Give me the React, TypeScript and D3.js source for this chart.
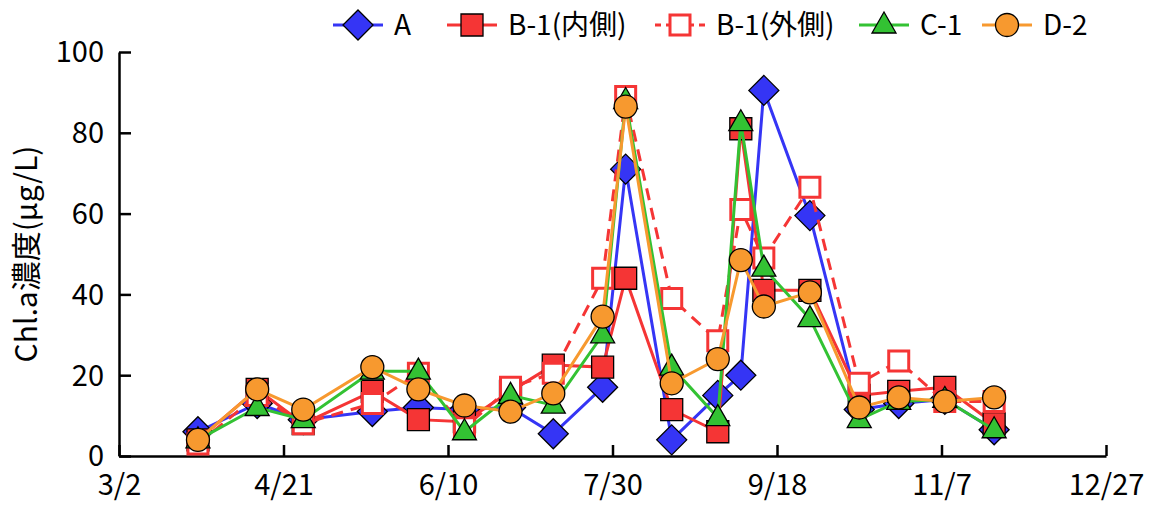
import { useEffect, useRef } from 'react';
import * as d3 from 'd3';

// sampling dates (M/D) and Chl.a values (μg/L) per station
const sampleDates = ['3/26', '4/13', '4/27', '5/18', '6/1', '6/15', '6/29', '7/12', '7/27', '8/3', '8/17', '8/31', '9/7', '9/14', '9/28', '10/13', '10/25', '11/8', '11/23'];
const seriesA = [6, 13, 9, 11, 12, 11.5, 12, 5.5, 17, 71, 4, 15, 20, 90.5, 59.5, 11.5, 13, 14, 6.5];
const seriesBin = [4, 16.5, 8, 16, 9, 8.5, 16, 22.5, 22, 44, 11.5, 6, 81, 41, 41, 15, 16, 17, 8];
const seriesBout = [3, 15, 8, 13, 20.5, 7, 17, 20.5, 44, 89, 39, 28.5, 61, 49, 66.5, 18, 23.5, 13.5, 13.5];
const seriesC = [4, 12, 9, 21, 21, 6, 15, 12.6, 30, 88, 22, 9.5, 82.5, 46.5, 34, 9, 13.5, 14, 6.5];
const seriesD = [4, 16.5, 11.5, 22, 16.5, 12.5, 11, 15.5, 34.5, 86.5, 18, 24, 48.5, 37, 40.5, 12, 14.5, 13.5, 14.5];
const xTickLabels = ['3/2', '4/21', '6/10', '7/30', '9/18', '11/7', '12/27'];
const yTicks = [0, 20, 40, 60, 80, 100];

const seriesDefs = [
  { name: 'A', values: seriesA, color: '#3535f5', marker: 'diamond', fill: '#3535f5', dash: null },
  { name: 'B-1(内側)', values: seriesBin, color: '#f53535', marker: 'square', fill: '#f53535', dash: null },
  { name: 'B-1(外側)', values: seriesBout, color: '#f53535', marker: 'hollow', fill: '#fff', dash: '12,8' },
  { name: 'C-1', values: seriesC, color: '#33c233', marker: 'triangle', fill: '#33c233', dash: null },
  { name: 'D-2', values: seriesD, color: '#f7992f', marker: 'circle', fill: '#f7992f', dash: null },
];

const FONT = '"Noto Sans CJK JP", "Noto Sans", sans-serif';
const parse = d3.timeParse('%Y/%m/%d');
const toDate = (md: string) => parse('2019/' + md)!;

function markerPath(type: string) {
  switch (type) {
    case 'diamond':
      return 'M0,-15L15,0L0,15L-15,0Z';
    case 'square':
      return 'M-11,-11H11V11H-11Z';
    case 'hollow':
      return 'M-10,-10H10V10H-10Z';
    case 'triangle':
      return 'M0,-13L12,8H-12Z';
    default:
      return d3.arc()({ innerRadius: 0, outerRadius: 11.5, startAngle: 0, endAngle: Math.PI * 2 }) as string;
  }
}

function drawMarker(g: any, s: any, x: number, y: number) {
  g.append('path')
    .attr('d', markerPath(s.marker))
    .attr('transform', `translate(${x},${y})`)
    .attr('fill', s.fill)
    .attr('stroke', s.marker === 'hollow' ? s.color : '#000')
    .attr('stroke-width', s.marker === 'hollow' ? 3 : 1.3);
}

export default function App() {
  const ref = useRef<SVGSVGElement>(null);
  const width = 1150;
  const height = 507;

  useEffect(() => {
    if (!ref.current) return;
    const svg = d3.select(ref.current);
    svg.selectAll('*').remove();
    const margin = { top: 52, right: 44, bottom: 51, left: 119 };

    const x = d3
      .scaleTime()
      .domain([toDate('3/2'), toDate('12/27')])
      .range([margin.left, width - margin.right]);
    const y = d3.scaleLinear().domain([0, 100]).range([height - margin.bottom, margin.top]);

    // axes
    const xAxis = d3
      .axisBottom(x)
      .tickValues(xTickLabels.map(toDate))
      .tickFormat((d: Date) => `${d.getMonth() + 1}/${d.getDate()}`)
      .tickSizeInner(-11)
      .tickSizeOuter(0)
      .tickPadding(22);
    const gx = svg.append('g').attr('transform', `translate(0,${y(0)})`).call(xAxis);
    const yAxis = d3.axisLeft(y).tickValues(yTicks).tickSizeInner(-12).tickSizeOuter(0).tickPadding(15);
    const gy = svg.append('g').attr('transform', `translate(${margin.left},0)`).call(yAxis);
    [gx, gy].forEach((g) => {
      g.select('.domain').attr('stroke', '#000').attr('stroke-width', 2.5);
      g.selectAll('.tick line').attr('stroke', '#000').attr('stroke-width', 2.5);
      g.selectAll('.tick text').attr('font-family', FONT).attr('font-size', 29).attr('fill', '#000');
    });
    gy.selectAll('.tick text').attr('dy', '0.34em');
    gx.selectAll('.tick text').attr('dy', '0.6em');

    svg
      .append('text')
      .attr('transform', `translate(37,${(y(0) + y(100)) / 2}) rotate(-90)`)
      .attr('text-anchor', 'middle')
      .attr('font-family', FONT)
      .attr('font-size', 30)
      .text('Chl.a濃度(μg/L)');

    // series
    const line = d3
      .line<number>()
      .x((_, i) => x(toDate(sampleDates[i])))
      .y((v) => y(v));

    seriesDefs.forEach((s) => {
      const g = svg.append('g');
      g.append('path')
        .attr('d', line(s.values))
        .attr('fill', 'none')
        .attr('stroke', s.color)
        .attr('stroke-width', 3)
        .attr('stroke-dasharray', s.dash);
      s.values.forEach((v, i) => drawMarker(g, s, x(toDate(sampleDates[i])), y(v)));
    });

    // legend
    const legendX = [358, 472, 680, 884, 1007];
    const legendY = 25;
    seriesDefs.forEach((s, i) => {
      const g = svg.append('g');
      const cx = legendX[i];
      g.append('line')
        .attr('x1', cx - 25)
        .attr('x2', cx + 25)
        .attr('y1', legendY)
        .attr('y2', legendY)
        .attr('stroke', s.color)
        .attr('stroke-width', 3)
        .attr('stroke-dasharray', s.dash ? '6,5' : null);
      drawMarker(g, s, cx, legendY);
      g.append('text')
        .attr('x', cx + 36)
        .attr('y', legendY)
        .attr('dy', '0.36em')
        .attr('font-family', FONT)
        .attr('font-size', 28)
        .text(s.name);
    });
  }, []);

  return (
    <svg
      ref={ref}
      width={width}
      height={height}
      style={{ position: 'absolute', left: 0, top: 0, background: '#fff' }}
    />
  );
}
